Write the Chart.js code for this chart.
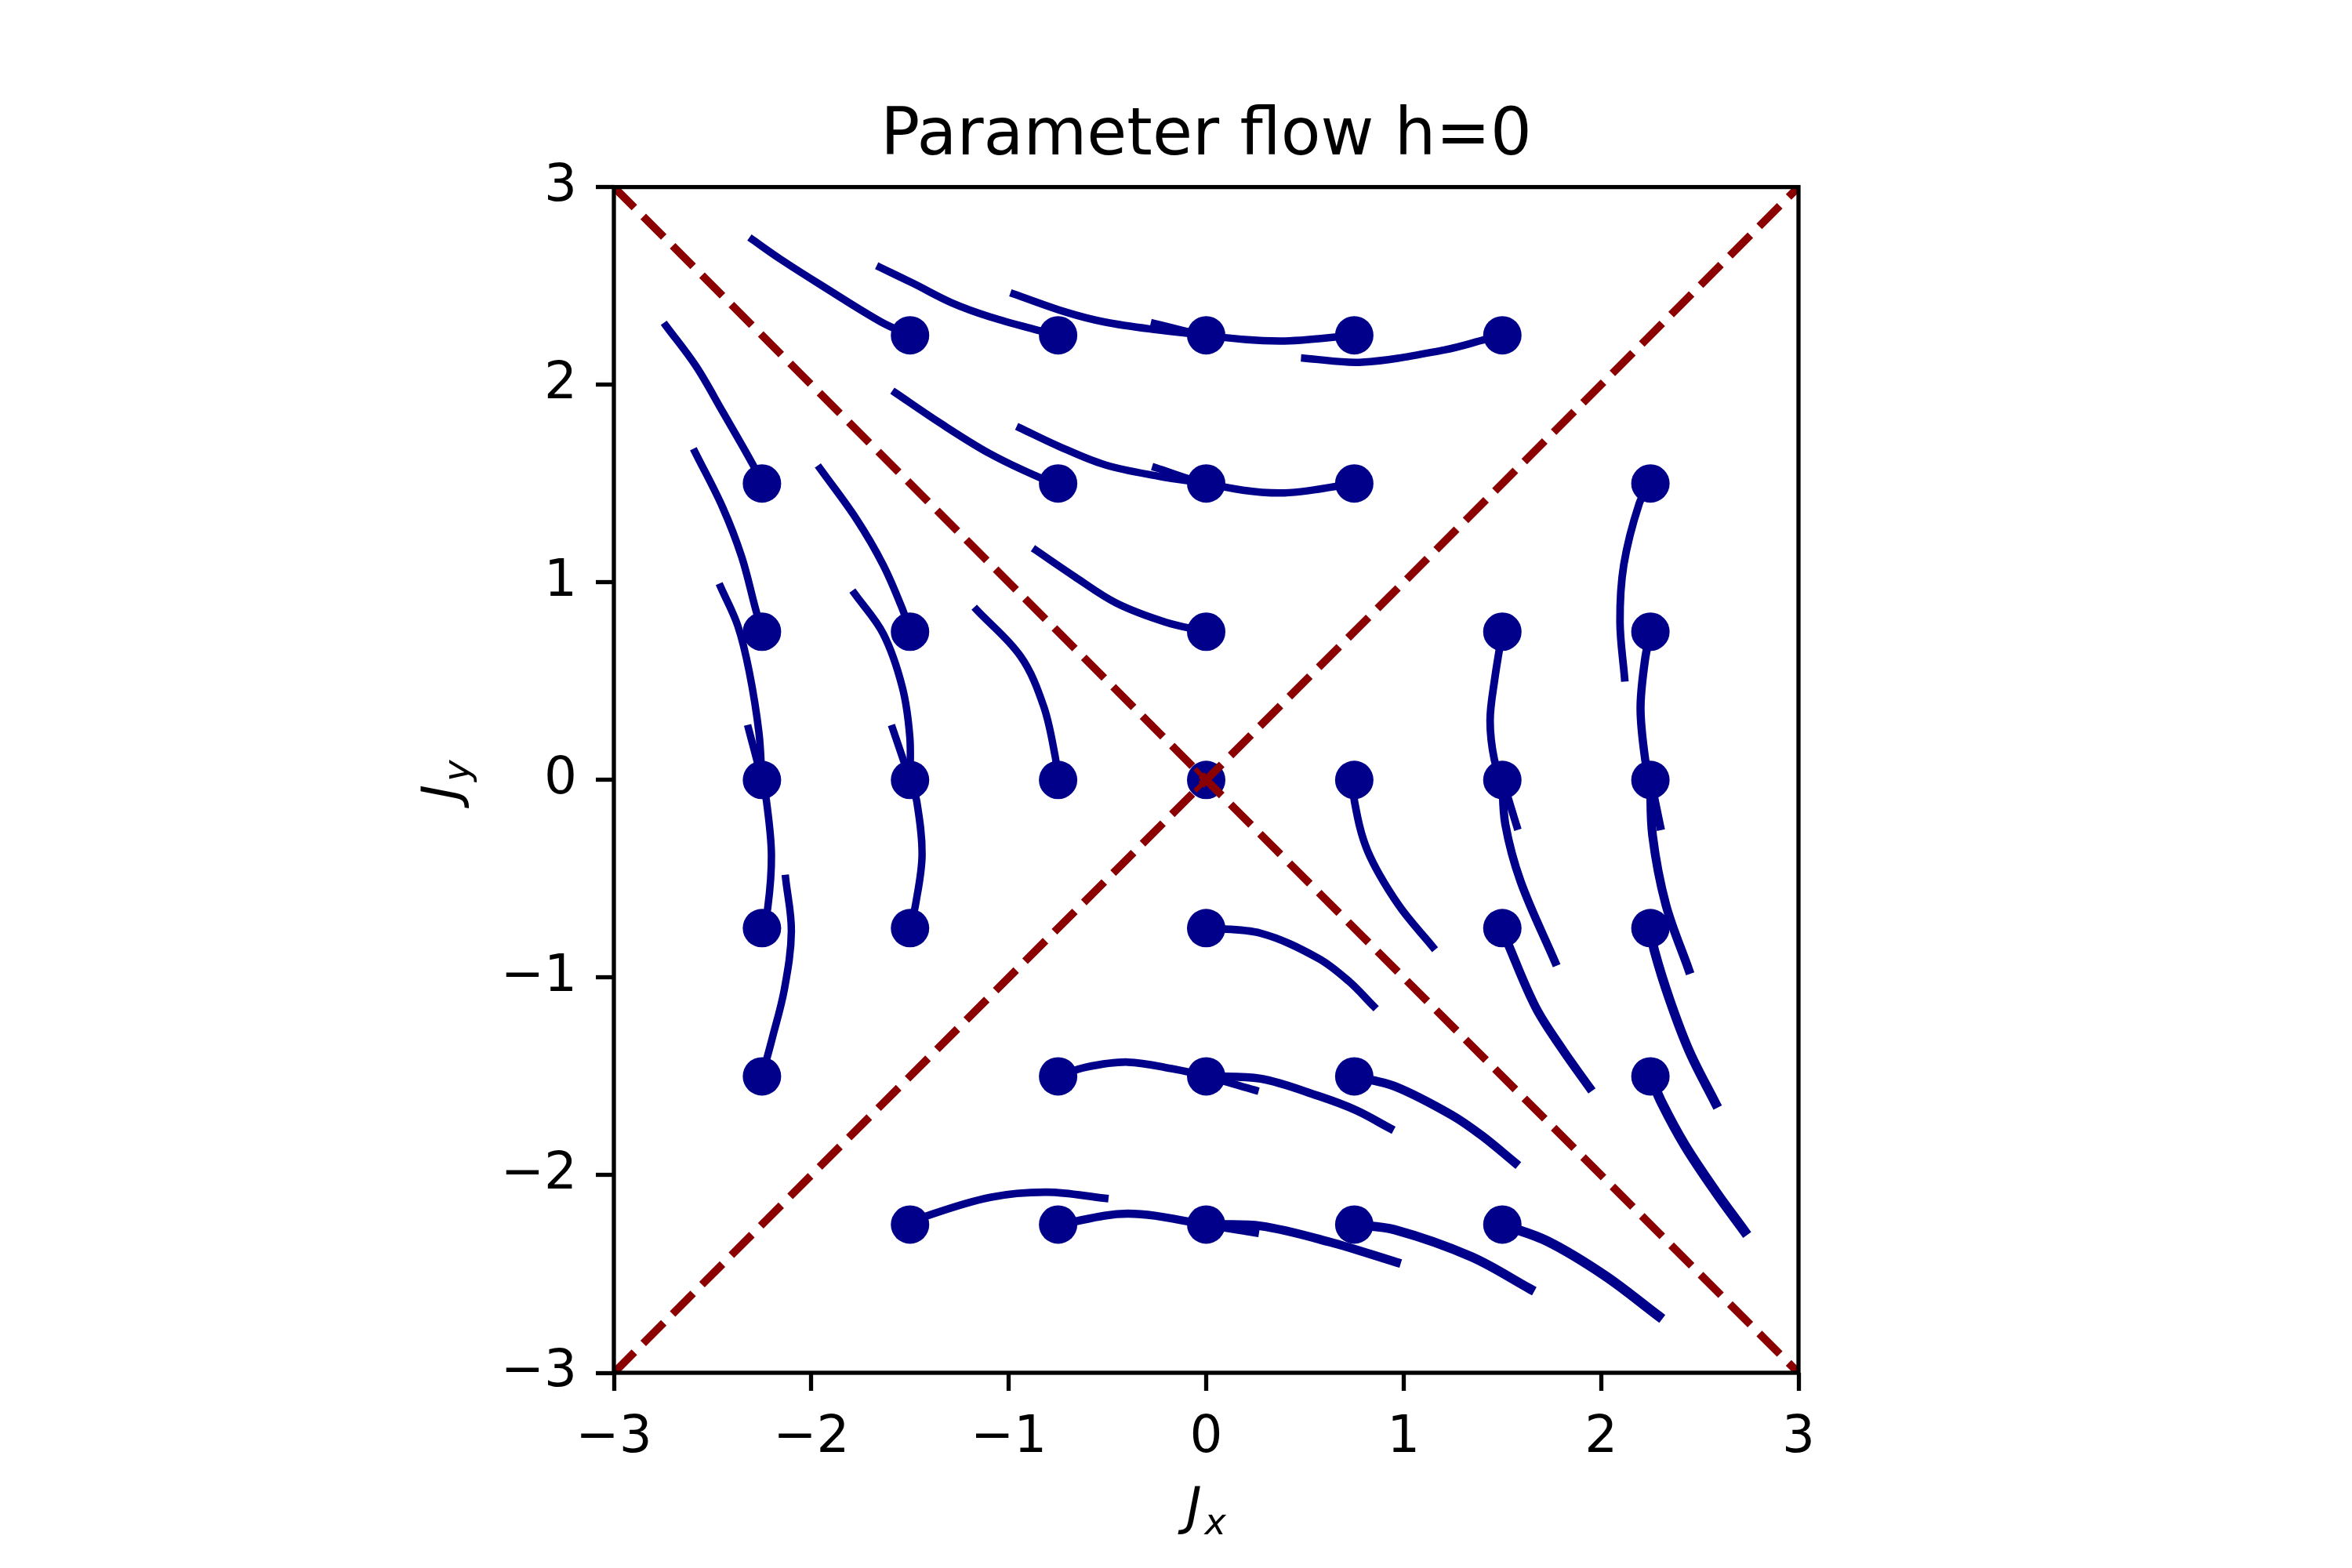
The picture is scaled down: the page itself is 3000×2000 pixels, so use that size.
<!DOCTYPE html>
<html>
<head>
<meta charset="utf-8">
<script src="https://cdn.jsdelivr.net/npm/chart.js@4.4.0/dist/chart.umd.min.js"></script>
<style>
    html, body { margin: 0; padding: 0; background: #ffffff; }
    #flow-chart { display: block; }
</style>
</head>
<body>
<canvas id="flow-chart" width="3000" height="2000"></canvas>
<script>
const tickValues = [-3, -2, -1, 0, 1, 2, 3];
const diagonalX = [-3, 3];
const fixedPoint = [0, 0];

// flow trajectories, first point of each one is the starting coupling (the dot)
const flowsRow225 = [
    [[-1.5, 2.25], [-1.646, 2.317], [-1.946, 2.501], [-2.159, 2.637], [-2.298, 2.734]],
    [[-0.75, 2.25], [-0.843, 2.273], [-1.094, 2.343], [-1.288, 2.414], [-1.481, 2.511], [-1.652, 2.594]],
    [[0, 2.25], [-0.262, 2.279], [-0.514, 2.317], [-0.707, 2.366], [-0.974, 2.459]],
    [[0.75, 2.25], [0.373, 2.221], [0, 2.25], [-0.262, 2.31]],
    [[1.5, 2.25], [1.418, 2.23], [1.206, 2.176], [0.789, 2.114], [0.499, 2.134]]
];
const flowsRow150 = [
    [[-2.25, 1.5], [-2.294, 1.592], [-2.449, 1.863], [-2.585, 2.095], [-2.736, 2.298]],
    [[-0.75, 1.5], [-0.843, 1.53], [-1.094, 1.65], [-1.346, 1.805], [-1.574, 1.959]],
    [[0, 1.5], [-0.243, 1.537], [-0.514, 1.595], [-0.746, 1.688], [-0.943, 1.781]],
    [[0.75, 1.5], [0.373, 1.452], [0, 1.5], [-0.256, 1.58]],
    [[2.25, 1.5], [2.193, 1.398], [2.115, 1.088], [2.096, 0.798], [2.119, 0.517]]
];
const flowsRow075 = [
    [[-2.25, 0.75], [-2.285, 0.875], [-2.352, 1.127], [-2.449, 1.379], [-2.589, 1.659]],
    [[-1.5, 0.75], [-1.539, 0.866], [-1.636, 1.088], [-1.772, 1.321], [-1.956, 1.576]],
    [[0, 0.75], [-0.204, 0.798], [-0.455, 0.895], [-0.668, 1.03], [-0.862, 1.162]],
    [[1.5, 0.75], [1.461, 0.508], [1.438, 0.3], [1.46, 0.1], [1.5, 0], [1.573, -0.234]],
    [[2.25, 0.75], [2.222, 0.604], [2.2, 0.36], [2.224, 0.1], [2.25, 0], [2.299, -0.234]]
];
const flowsRow000 = [
    [[-2.25, 0], [-2.265, 0.237], [-2.314, 0.546], [-2.372, 0.779], [-2.459, 0.976]],
    [[-1.5, 0], [-1.501, 0.217], [-1.539, 0.469], [-1.636, 0.74], [-1.781, 0.943]],
    [[-0.75, 0], [-0.765, 0.12], [-0.823, 0.372], [-0.939, 0.624], [-1.162, 0.86]],
    [[0.75, 0], [0.751, -0.108], [0.818, -0.36], [0.973, -0.631], [1.147, -0.844]],
    [[1.5, 0], [1.515, -0.224], [1.593, -0.515], [1.767, -0.921]],
    [[2.25, 0], [2.261, -0.282], [2.328, -0.631], [2.444, -0.96]]
];
const flowsRowM075 = [
    [[-2.25, -0.75], [-2.221, -0.65], [-2.202, -0.379], [-2.227, -0.108], [-2.25, 0], [-2.318, 0.26]],
    [[-1.5, -0.75], [-1.472, -0.631], [-1.439, -0.379], [-1.466, -0.108], [-1.5, 0], [-1.588, 0.26]],
    [[0, -0.75], [0.276, -0.776], [0.567, -0.902], [0.722, -1.018], [0.847, -1.144]],
    [[1.5, -0.75], [1.535, -0.844], [1.67, -1.153], [1.806, -1.366], [1.941, -1.556]],
    [[2.25, -0.75], [2.27, -0.863], [2.35, -1.12], [2.45, -1.38], [2.58, -1.637]]
];
const flowsRowM150 = [
    [[-2.25, -1.5], [-2.198, -1.308], [-2.136, -1.057], [-2.101, -0.766], [-2.13, -0.499]],
    [[-0.75, -1.5], [-0.61, -1.454], [-0.397, -1.428], [-0.165, -1.463], [0, -1.5], [0.247, -1.57]],
    [[0, -1.5], [0.276, -1.512], [0.567, -1.599], [0.76, -1.672], [0.931, -1.763]],
    [[0.75, -1.5], [0.954, -1.55], [1.244, -1.696], [1.399, -1.802], [1.564, -1.937]],
    [[2.25, -1.5], [2.309, -1.637], [2.425, -1.85], [2.58, -2.083], [2.725, -2.282]]
];
const flowsRowM225 = [
    [[-1.5, -2.25], [-1.423, -2.209], [-1.094, -2.112], [-0.804, -2.086], [-0.514, -2.117]],
    [[-0.75, -2.25], [-0.397, -2.195], [0, -2.25], [0.247, -2.29]],
    [[0, -2.25], [0.276, -2.257], [0.625, -2.338], [0.964, -2.441]],
    [[0.75, -2.25], [0.954, -2.276], [1.341, -2.412], [1.641, -2.576]],
    [[1.5, -2.25], [1.728, -2.334], [2.019, -2.508], [2.29, -2.712]]
];

const canvas = document.getElementById('flow-chart');
const navy = '#00008b';
const darkred = '#8b0000';

function minus_label(v) {
    return v < 0 ? '\u2212' + Math.abs(v) : String(v);
}

// lower-right trajectories are drawn heavier in the original
function line_width(x0, y0) {
    const d = x0 - y0;
    return d > 0 ? Math.min(9 + d, 13) : 9.5;
}

const all_flows = [].concat(flowsRow225, flowsRow150, flowsRow075, flowsRow000,
                            flowsRowM075, flowsRowM150, flowsRowM225);

var chart_datasets = [];

all_flows.forEach(path => {
    chart_datasets.push({
        data: path.map(p => ({ x: p[0], y: p[1] })),
        showLine: true,
        borderColor: navy,
        borderWidth: line_width(path[0][0], path[0][1]),
        borderCapStyle: 'square',
        borderJoinStyle: 'round',
        tension: 0.35,
        pointRadius: 0,
        fill: false,
        order: 4
    });
});

chart_datasets.push({
    data: all_flows.map(path => ({ x: path[0][0], y: path[0][1] }))
        .concat([{ x: fixedPoint[0], y: fixedPoint[1] }]),
    showLine: false,
    pointRadius: 24.5,
    pointBackgroundColor: navy,
    pointBorderWidth: 0,
    order: 3
});

chart_datasets.push({
    data: diagonalX.map(x => ({ x: x, y: x })),
    showLine: true,
    borderColor: darkred,
    borderWidth: 10,
    borderDash: [37, 16],
    pointRadius: 0,
    order: 2
});

chart_datasets.push({
    data: diagonalX.map(x => ({ x: x, y: -x })),
    showLine: true,
    borderColor: darkred,
    borderWidth: 10,
    borderDash: [37, 16],
    pointRadius: 0,
    order: 2
});

chart_datasets.push({
    data: [{ x: fixedPoint[0], y: fixedPoint[1] }],
    showLine: false,
    pointStyle: 'crossRot',
    pointRadius: 20,
    pointBorderColor: darkred,
    pointBorderWidth: 6,
    order: 1
});


function draw_sub_label(ctx, main, sub, x, y, angle) {
    ctx.save();
    ctx.translate(x, y);
    ctx.rotate(angle);
    ctx.fillStyle = '#000';
    ctx.textBaseline = 'alphabetic';
    ctx.textAlign = 'left';
    ctx.font = 'italic 66px "DejaVu Sans"';
    const w1 = ctx.measureText(main).width;
    ctx.font = 'italic 46px "DejaVu Sans"';
    const w2 = ctx.measureText(sub).width;
    const start = -(w1 + w2 + 4) / 2;
    ctx.font = 'italic 66px "DejaVu Sans"';
    ctx.fillText(main, start, 0);
    ctx.font = 'italic 46px "DejaVu Sans"';
    ctx.fillText(sub, start + w1 + 4, 14);
    ctx.restore();
}

const frame_plugin = {
    id: 'frame_and_labels',
    afterDraw(chart) {
        const ctx = chart.ctx;
        const area = chart.chartArea;
        ctx.save();
        ctx.strokeStyle = '#000';
        ctx.lineWidth = 5.3;
        ctx.strokeRect(area.left, area.top, area.right - area.left, area.bottom - area.top);
        ctx.restore();

        const cx = (area.left + area.right) / 2;
        const cy = (area.top + area.bottom) / 2;
        draw_sub_label(ctx, 'J', 'x', cx, 1943, 0);
        draw_sub_label(ctx, 'J', 'y', 584, cy, -Math.PI / 2);
    }
};

function axis_options(pos, pad) {
    return {
        type: 'linear',
        position: pos,
        min: -3,
        max: 3,
        afterBuildTicks: (scale) => {
            scale.ticks = tickValues.map(v => ({ value: v }));
        },
        afterFit: (scale) => {
            if (pos === 'bottom') {
                scale.height = 150;
            } else {
                scale.width = 150;
            }
        },
        grid: {
            drawOnChartArea: false,
            drawTicks: true,
            tickLength: 23,
            tickWidth: 5.3,
            tickColor: '#000000'
        },
        border: { display: false },
        ticks: {
            color: '#000000',
            padding: pad,
            autoSkip: false,
            maxRotation: 0,
            font: { family: 'DejaVu Sans', size: 66 },
            callback: (v) => minus_label(v)
        }
    };
}

var chart = new Chart(canvas, {
    type: 'scatter',
    data: { datasets: chart_datasets },
    options: {
        responsive: false,
        animation: false,
        devicePixelRatio: 1,
        events: [],
        layout: {
            padding: { left: 633, right: 706, top: 0, bottom: 99 }
        },
        scales: {
            x: axis_options('bottom', 21),
            y: axis_options('left', 24)
        },
        plugins: {
            legend: { display: false },
            tooltip: { enabled: false },
            title: {
                display: true,
                fullSize: false,
                text: 'Parameter flow h=0',
                color: '#000000',
                font: { family: 'DejaVu Sans', size: 83, weight: 'normal', lineHeight: 1.2 },
                padding: { top: 126, bottom: 13 }
            }
        }
    },
    plugins: [frame_plugin]
});
</script>
</body>
</html>
